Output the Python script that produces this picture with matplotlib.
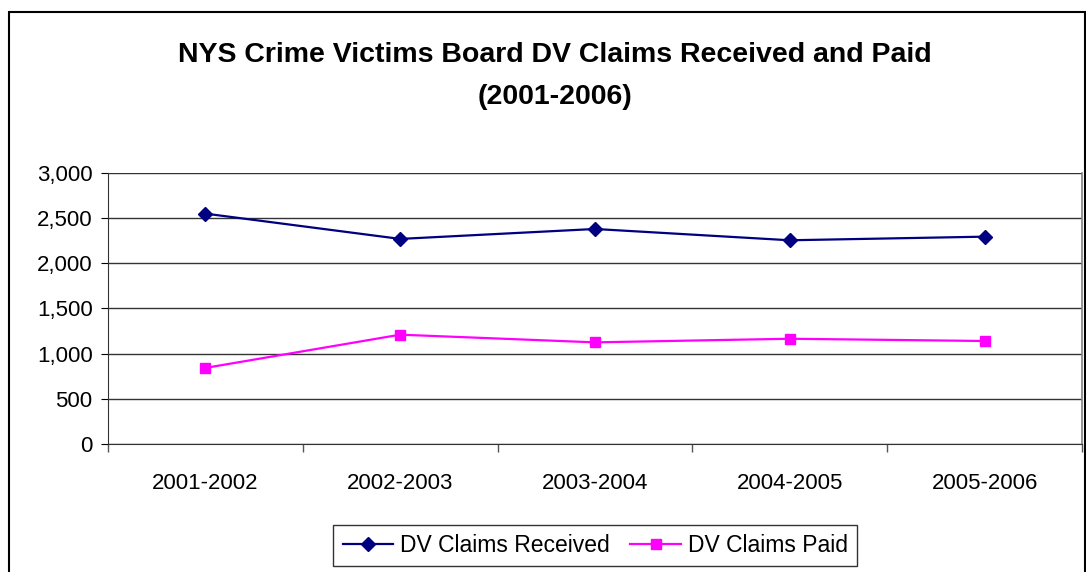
from matplotlib import pyplot as plt
from matplotlib.patches import Rectangle
from matplotlib.ticker import FuncFormatter, FixedLocator

# 年份
years = ["2001-2002", "2002-2003", "2003-2004", "2004-2005", "2005-2006"]
# 收到的申请
received = [2550, 2270, 2380, 2255, 2295]
# 已支付的申请
paid = [842, 1210, 1125, 1165, 1140]

plt.rcParams['font.family'] = ['Liberation Sans', 'DejaVu Sans']

fig = plt.figure(figsize=(10.86, 5.72), dpi=100)
ax = fig.add_axes([0.0994, 0.2238, 0.8969, 0.4738])

x = range(len(years))
ax.plot(x, received, color="#000080", linewidth=1.6, marker="D", markersize=7.5,
        label="DV Claims Received")
ax.plot(x, paid, color="#FF00FF", linewidth=1.6, marker="s", markersize=7.5,
        label="DV Claims Paid")

# 坐标范围
ax.set_xlim(-0.5, len(years) - 0.5)
ax.set_ylim(0, 3000)
ax.set_yticks(range(0, 3001, 500))
ax.yaxis.set_major_formatter(FuncFormatter(lambda v, p: "{:,.0f}".format(v)))
ax.set_xticks(list(x))
ax.set_xticklabels(years)
ax.xaxis.set_minor_locator(FixedLocator([i - 0.5 for i in range(len(years) + 1)]))

ax.tick_params(axis="x", which="major", length=0, pad=21, labelsize=16)
ax.tick_params(axis="x", which="minor", length=6, direction="out", width=1, color="#555555")
ax.tick_params(axis="y", length=5, direction="out", pad=6, labelsize=16)

# 网格
ax.grid(axis="y", color="#333333", linewidth=1)
ax.set_axisbelow(True)
ax.spines["top"].set_visible(False)
ax.spines["right"].set_color("#808080")
ax.spines["right"].set_linewidth(1.2)
ax.spines["left"].set_color("#333333")
ax.spines["bottom"].set_color("#333333")

# 标题
fig.text(0.511, 0.903, "NYS Crime Victims Board DV Claims Received and Paid",
         ha="center", va="center", fontsize=20.5, fontweight="bold")
fig.text(0.511, 0.830, "(2001-2006)", ha="center", va="center",
         fontsize=20.5, fontweight="bold")

# 图例
leg = fig.legend(loc="center", bbox_to_anchor=(0.548, 0.046), ncol=2,
                 fontsize=16.5, frameon=True, fancybox=False, edgecolor="black",
                 handlelength=2.2, columnspacing=0.9, handletextpad=0.3,
                 borderpad=0.4)
leg.get_frame().set_linewidth(1)

# 外框
fig.patches.append(Rectangle((9 / 1086, -0.05), 1076 / 1086, 1.05 - 12 / 572,
                             transform=fig.transFigure, fill=False,
                             edgecolor="black", linewidth=1.5))

plt.savefig("out.png")
